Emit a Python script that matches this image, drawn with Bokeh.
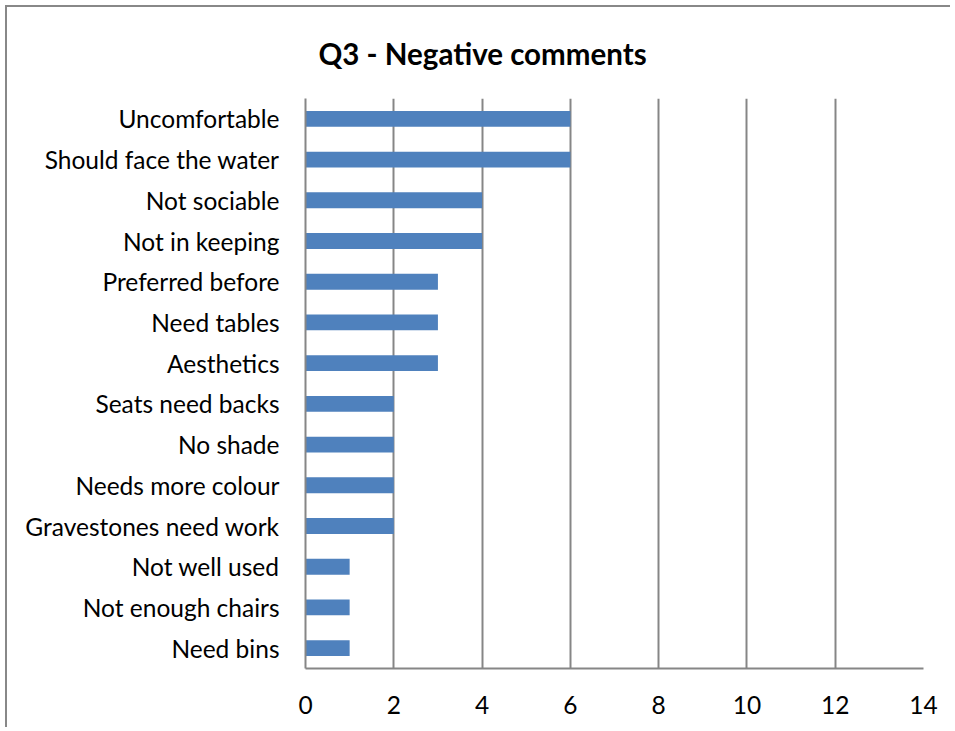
from bokeh.plotting import figure
from bokeh.models import FactorRange, Range1d, FixedTicker, Title
from bokeh.embed import file_html
from bokeh.resources import INLINE

categories = ["Uncomfortable", "Should face the water", "Not sociable", "Not in keeping",
              "Preferred before", "Need tables", "Aesthetics", "Seats need backs", "No shade",
              "Needs more colour", "Gravestones need work", "Not well used",
              "Not enough chairs", "Need bins"]
counts = [6, 6, 4, 4, 3, 3, 3, 2, 2, 2, 2, 1, 1, 1]
x_ticks = [0, 2, 4, 6, 8, 10, 12, 14]
title_text = "Q3 - Negative comments"

FONT = "Lato"
GRID = "#868686"

p = figure(width=945, height=722, output_backend="svg", toolbar_location=None,
           y_range=FactorRange(*categories[::-1]),
           x_range=Range1d(0, 14),
           min_border_left=298, min_border_right=29, min_border_top=91, min_border_bottom=61)
p.y_range.range_padding = 0
p.y_range.factor_padding = 0

p.hbar(y=categories, right=counts, left=0, height=0.39, color="#4F81BD", line_color=None)

p.outline_line_color = None
p.ygrid.grid_line_color = None
p.xgrid.grid_line_color = GRID
p.xgrid.grid_line_width = 2
p.xaxis.ticker = FixedTicker(ticks=x_ticks)

for ax in (p.xaxis, p.yaxis):
    ax.axis_line_color = GRID
    ax.axis_line_width = 2
    ax.major_tick_line_color = None
    ax.minor_tick_line_color = None
    ax.major_label_text_font = FONT
    ax.major_label_text_font_size = "24.5px"
    ax.major_label_text_color = "#000000"
p.xaxis.major_label_standoff = 21
p.yaxis.major_label_standoff = 20

title = Title(text=title_text, align="left", offset=13, vertical_align="top",
              text_font=FONT, text_font_size="29.5px", text_font_style="bold",
              text_color="#000000", standoff=51)
p.add_layout(title, "above")

p.styles = {"border-left": "2px solid #888888", "border-top": "2px solid #888888",
            "margin-left": "5px", "margin-top": "5px"}

open("out.html", "w").write(file_html(p, INLINE))
